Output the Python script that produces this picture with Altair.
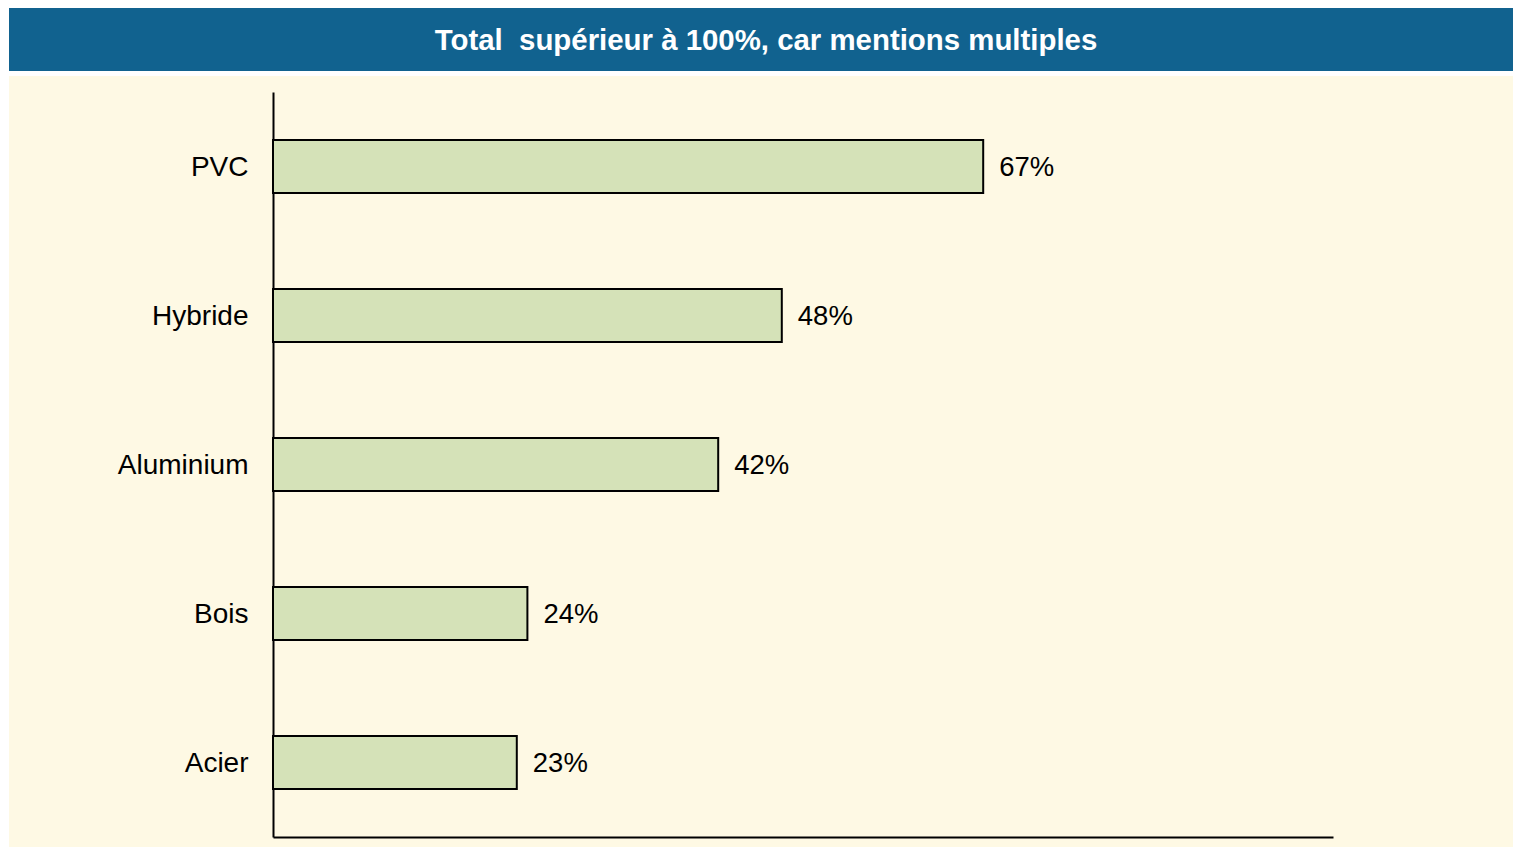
import altair as alt
import pandas as pd

categories = ["PVC", "Hybride", "Aluminium", "Bois", "Acier"]
values = [67, 48, 42, 24, 23]
value_labels = ["67%", "48%", "42%", "24%", "23%"]
header_text = "Total \u00a0supérieur à 100%, car mentions multiples"

BLUE = "#11628f"
CREAM = "#fef9e4"
GREEN = "#d5e2b8"
FONT = "Liberation Sans"

W = 1504
HEADER_H = 63
MAIN_H = 771

df = pd.DataFrame({"cat": categories, "val": values, "lab": value_labels})

header = alt.Chart(pd.DataFrame({"t": [header_text]})).mark_text(
    font=FONT, fontSize=29.4, fontWeight="bold", color="white",
    align="center", baseline="middle"
).encode(
    x=alt.value(757), y=alt.value(HEADER_H / 2 + 1.5), text="t:N"
).properties(width=W, height=HEADER_H,
             view=alt.ViewBackground(fill=BLUE, strokeWidth=0))

y_enc = alt.Y(
    "cat:N", sort=categories, title="",
    scale=alt.Scale(range=[16, 761], paddingInner=0.644, paddingOuter=0.322),
    axis=alt.Axis(orient="left", offset=-264, domainColor="black", domainWidth=2,
                  ticks=False, labelFontSize=28, labelFont=FONT, labelColor="black",
                  labelPadding=25, labelOffset=1, grid=False),
)
x_enc = alt.X(
    "val:Q", title="",
    scale=alt.Scale(domain=[0, 100], range=[264, 1324]),
    axis=alt.Axis(orient="bottom", offset=-10, labels=False, ticks=False, grid=False,
                  domainColor="black", domainWidth=2),
)

base = alt.Chart(df)
bars = base.mark_bar(fill=GREEN, stroke="black", strokeWidth=2).encode(x=x_enc, y=y_enc)
texts = base.mark_text(align="left", baseline="middle", dx=16, dy=1.5, fontSize=27.5,
                       font=FONT, color="black").encode(x=x_enc, y=y_enc, text="lab:N")

main = alt.layer(bars, texts).properties(
    width=W, height=MAIN_H, view=alt.ViewBackground(fill=CREAM, strokeWidth=0))

chart = alt.vconcat(header, main, spacing=5).properties(
    padding={"left": 1, "top": 0, "right": 0, "bottom": 0}
).configure(background="white").configure_view(strokeWidth=0)

chart.save("out.html", embed_options={"renderer": "svg", "actions": False})
